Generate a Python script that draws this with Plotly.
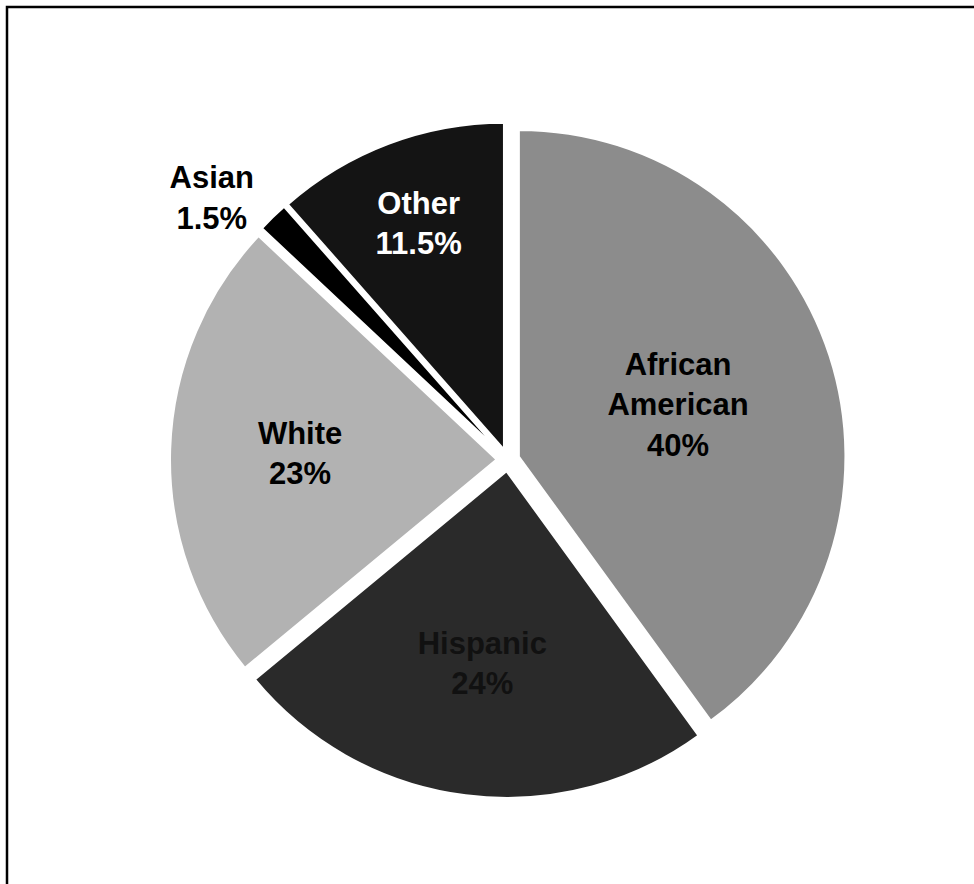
import plotly.graph_objects as go

# Population share by group, clockwise from 12 o'clock
groups = ["African American", "Hispanic", "White", "Asian", "Other"]
shares = [40, 24, 23, 1.5, 11.5]
slice_colors = ["#8c8c8c", "#2a2a2a", "#b2b2b2", "#000000", "#141414"]
label_colors = ["#000000", "#111111", "#000000", "#000000", "#ffffff"]
label_positions = ["inside", "inside", "inside", "outside", "inside"]

W, H = 974, 884
FONT = "Liberation Sans, Arial, sans-serif"

# Two-line group name followed by the share
slice_text = [g.replace(" ", "<br>") + "<br>" + f"{v:g}%" for g, v in zip(groups, shares)]

# Pie placement in pixels
cx, cy, span = 508, 460, 676

fig = go.Figure(
    go.Pie(
        labels=groups,
        values=shares,
        text=slice_text,
        texttemplate="%{text}",
        textposition=label_positions,
        insidetextorientation="horizontal",
        sort=False,
        direction="clockwise",
        rotation=0,
        pull=[0.035] * len(groups),
        marker=dict(colors=slice_colors, line=dict(color="#ffffff", width=2)),
        textfont=dict(family=FONT, size=31, weight="bold", color=label_colors),
        outsidetextfont=dict(family=FONT, size=31, weight="bold", color="#000000"),
        automargin=False,
        hoverinfo="label+percent",
        showlegend=False,
        domain=dict(
            x=[(cx - span / 2) / W, (cx + span / 2) / W],
            y=[1 - (cy + span / 2) / H, 1 - (cy - span / 2) / H],
        ),
    )
)

# Thin black frame around the chart area
fig.add_shape(
    type="rect", xref="paper", yref="paper",
    x0=7 / W, y0=1 - 7 / H, x1=1.05, y1=-0.05,
    line=dict(color="#000000", width=2.5),
    fillcolor="rgba(0,0,0,0)",
)

fig.update_layout(
    width=W, height=H,
    margin=dict(l=0, r=0, t=0, b=0),
    paper_bgcolor="#ffffff",
    plot_bgcolor="#ffffff",
    font=dict(family=FONT),
)

fig.write_html("out.html")
